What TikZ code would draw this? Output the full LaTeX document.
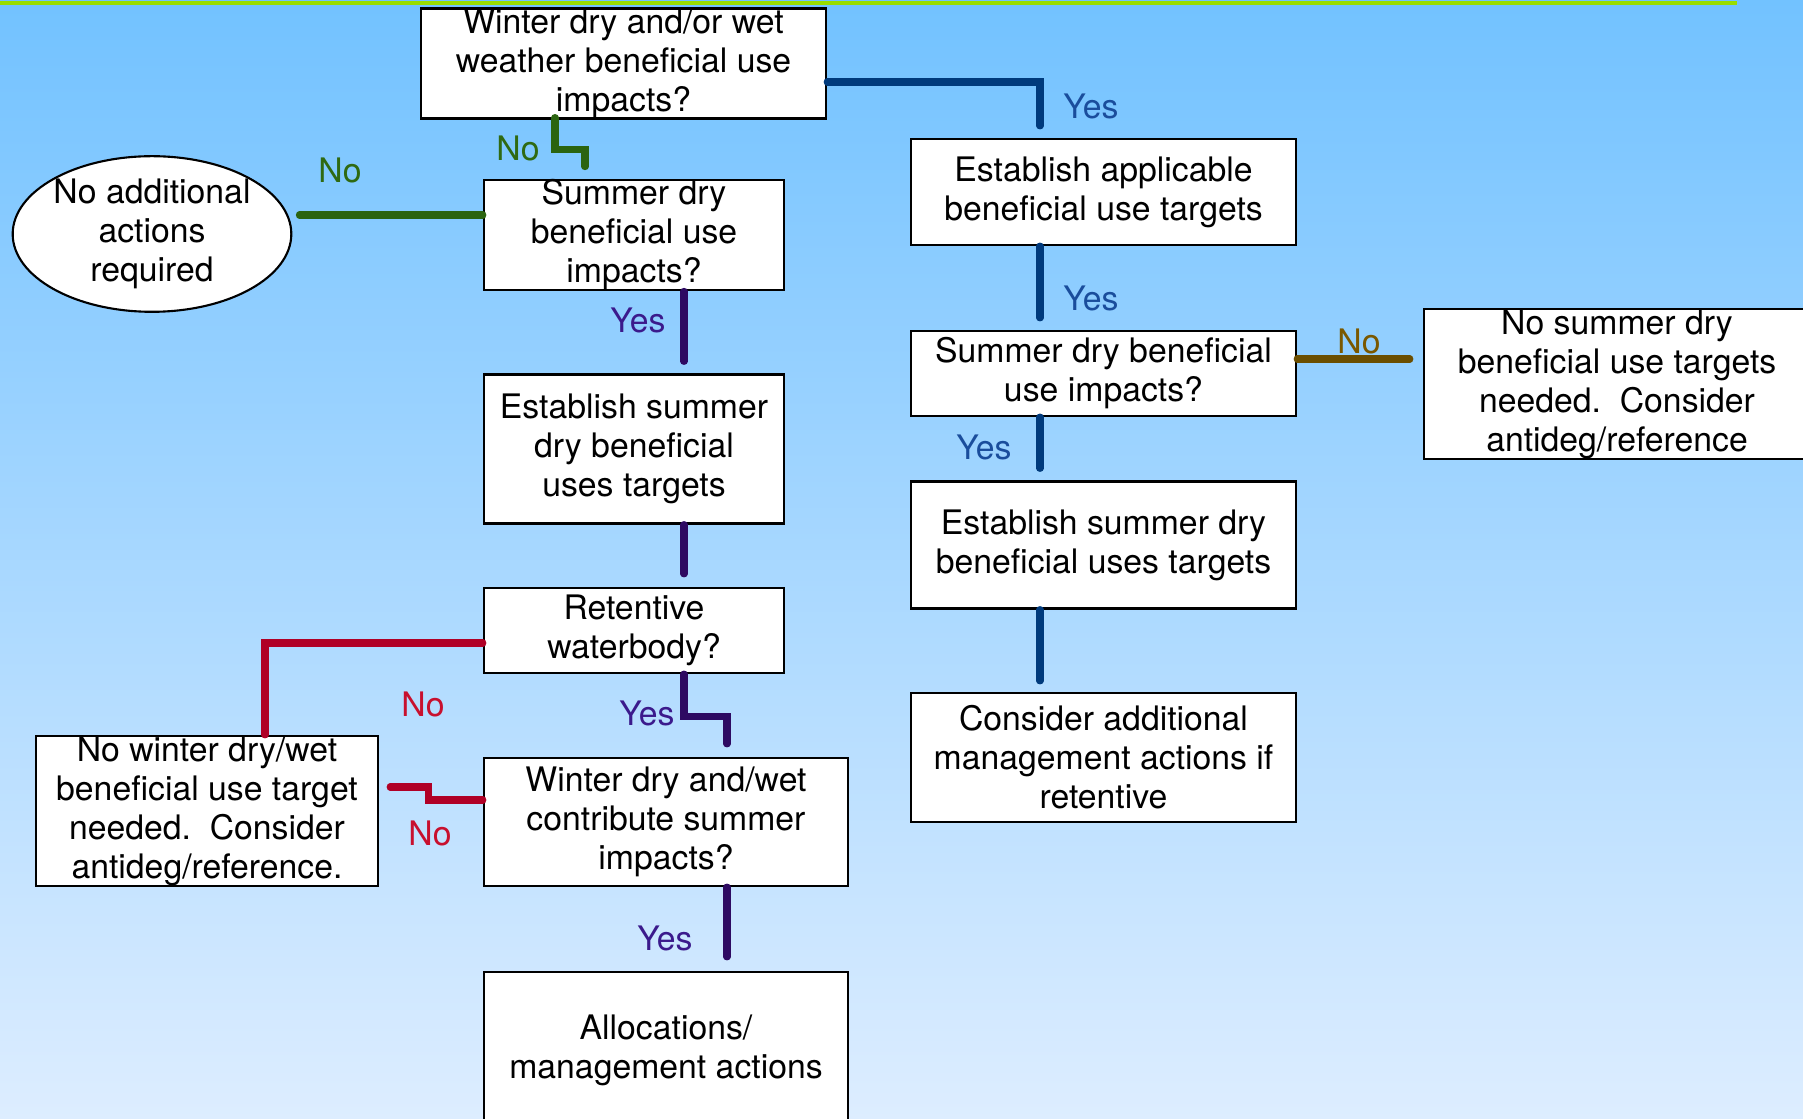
\documentclass[tikz,border=0pt]{standalone}
\usepackage{fontspec}
\setmainfont{TeX Gyre Heros}
\usepackage{xcolor}
\usepackage{tikz}
\usetikzlibrary{shapes.geometric, calc}
\definecolor{skytop}{HTML}{72C2FF}
\definecolor{skybottom}{HTML}{DDEDFF}
\definecolor{rulegreen}{HTML}{99DD00}
\definecolor{linkblue}{HTML}{003A7C}
\definecolor{linkgreen}{HTML}{2B6410}
\definecolor{linkpurple}{HTML}{2E0A62}
\definecolor{linkred}{HTML}{B00026}
\definecolor{linkbrown}{HTML}{6B4E00}
\definecolor{lblblue}{HTML}{1A4D9C}
\definecolor{lblgreen}{HTML}{2F6A12}
\definecolor{lblpurple}{HTML}{3B1A8C}
\definecolor{lblred}{HTML}{C8102E}
\definecolor{lblbrown}{HTML}{7A5800}
\newcommand{\chartfont}{\fontsize{9.6pt}{11.1pt}\selectfont}

\begin{document}
\begin{tikzpicture}[
    x=0.01cm, y=-0.01cm,
    box/.style={draw=black, fill=white, line width=0.6pt, align=center, inner sep=0pt, font=\chartfont},
    oval/.style={box, ellipse},
    link/.style={line width=2pt, line cap=round, line join=miter},
    bluelink/.style={link, linkblue},
    greenlink/.style={link, linkgreen},
    purplelink/.style={link, linkpurple},
    redlink/.style={link, linkred},
    brownlink/.style={link, linkbrown},
    lbl/.style={inner sep=0pt, font=\chartfont},
]
\useasboundingbox (0,0) rectangle (1803,1119);
\fill[top color=skytop, bottom color=skybottom] (0,0) rectangle (1803,1119);
\draw[rulegreen, line width=1.2pt] (0,3) -- (1737,3);
% Left column
\node[box, minimum width=4.05cm, minimum height=1.07cm] (winter) at (623.5,63.5) {Winter dry and/or wet\\weather beneficial use\\impacts?};
\node[box, minimum width=3.0cm, minimum height=1.08cm] (summer) at (634,235) {Summer dry\\beneficial use\\impacts?};
\node[oval, minimum width=2.76cm, minimum height=1.48cm] (noact) at (152,234) {No additional\\actions\\required};
\node[box, minimum width=3.0cm, minimum height=1.49cm] (estsum) at (634,449) {Establish summer\\dry beneficial\\uses targets};
\node[box, minimum width=3.0cm, minimum height=0.85cm] (retent) at (634,630.5) {Retentive\\waterbody?};
\node[box, minimum width=3.42cm, minimum height=1.5cm] (nowint) at (207,811) {No winter dry/wet\\beneficial use target\\needed.\ \ Consider\\antideg/reference.};
\node[box, minimum width=3.64cm, minimum height=1.28cm] (contrib) at (666,822) {Winter dry and/wet\\contribute summer\\impacts?};
\node[box, minimum width=3.64cm, minimum height=1.56cm] (alloc) at (666,1050) {Allocations/\\management actions};
% Right column
\node[box, minimum width=3.85cm, minimum height=1.06cm] (estapp) at (1103.5,192) {Establish applicable\\beneficial use targets};
\node[box, minimum width=3.85cm, minimum height=0.85cm] (summer2) at (1103.5,373.5) {Summer dry beneficial\\use impacts?};
\node[box, minimum width=3.86cm, minimum height=1.5cm] (nosum) at (1617,384) {No summer dry\\beneficial use targets\\needed.\ \ Consider\\antideg/reference};
\node[box, minimum width=3.85cm, minimum height=1.27cm] (estsum2) at (1103.5,545) {Establish summer dry\\beneficial uses targets};
\node[box, minimum width=3.85cm, minimum height=1.29cm] (consider) at (1103.5,757.5) {Consider additional\\management actions if\\retentive};
% Connectors
\draw[bluelink] ([shift={(0,18.5)}]winter.east) -| ([shift={(-63.5,-12)}]estapp.north);
\draw[greenlink] ([shift={(-68.5,-2)}]winter.south) -- ++(0,32) -| ([shift={(-49,-12)}]summer.north);
\draw[greenlink] ([shift={(0,-20)}]summer.west) -- ([shift={(7,-19)}]noact.east);
\draw[purplelink] ([shift={(50,0)}]summer.south) -- ([shift={(50,-12)}]estsum.north);
\draw[purplelink] ([shift={(50,0)}]estsum.south) -- ([shift={(50,-13)}]retent.north);
\draw[redlink] ([shift={(0,12.5)}]retent.west) -| ([shift={(58,0)}]nowint.north);
\draw[purplelink] ([shift={(50,0)}]retent.south) -- ++(0,42) -| ([shift={(61,-13)}]contrib.north);
\draw[redlink] ([shift={(0,-22)}]contrib.west) -- ++(-54,0) |- ([shift={(11,-24)}]nowint.east);
\draw[purplelink] ([shift={(61,0)}]contrib.south) -- ([shift={(61,-14)}]alloc.north);
\draw[bluelink] ([shift={(-63.5,0)}]estapp.south) -- ([shift={(-63.5,-12)}]summer2.north);
\draw[brownlink] ([shift={(0,-14.5)}]summer2.east) -- ([shift={(-13,-25)}]nosum.west);
\draw[bluelink] ([shift={(-63.5,0)}]summer2.south) -- ([shift={(-63.5,-12)}]estsum2.north);
\draw[bluelink] ([shift={(-63.5,0)}]estsum2.south) -- ([shift={(-63.5,-11)}]consider.north);
% Labels
\node[lbl, text=lblblue] (yes1) at (1091,106) {Yes};
\node[lbl, text=lblgreen] (no1) at (518,148) {No};
\node[lbl, text=lblgreen] (no2) at (340,170) {No};
\node[lbl, text=lblpurple] (yes2) at (638,320) {Yes};
\node[lbl, text=lblblue] (yes3) at (1091,298) {Yes};
\node[lbl, text=lblbrown] (no3) at (1359,341) {No};
\node[lbl, text=lblblue] (yes4) at (984,447) {Yes};
\node[lbl, text=lblred] (no4) at (423,704) {No};
\node[lbl, text=lblpurple] (yes5) at (647,713) {Yes};
\node[lbl, text=lblred] (no5) at (430,833) {No};
\node[lbl, text=lblpurple] (yes6) at (665,938) {Yes};
\end{tikzpicture}
\end{document}
